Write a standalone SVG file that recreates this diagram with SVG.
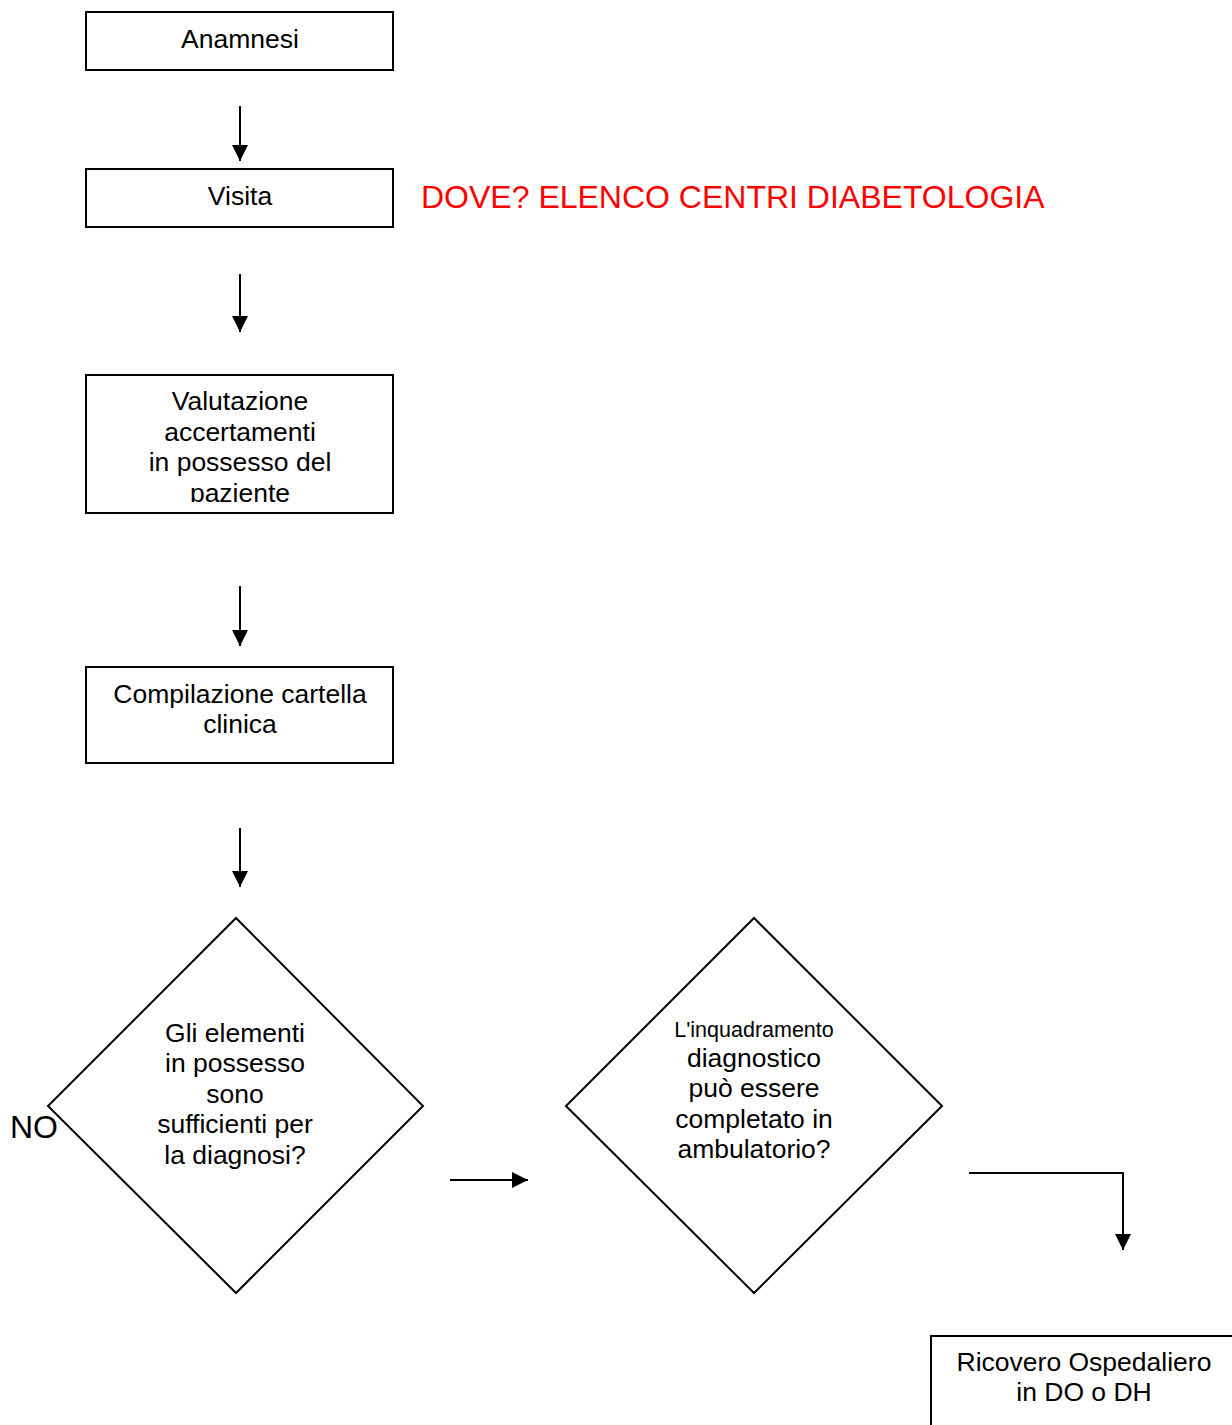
<svg xmlns="http://www.w3.org/2000/svg" width="1232" height="1425" viewBox="0 0 1232 1425">
<style>
.box{fill:#fff;stroke:#000;stroke-width:2}
.t{font-family:"Liberation Sans",Arial,sans-serif;font-size:26.5px;fill:#000;text-anchor:middle}
.c{stroke:#000;stroke-width:2;fill:none}
</style>
<defs>
<marker id="ah" markerWidth="16" markerHeight="16" viewBox="0 0 16 16" refX="16" refY="8" orient="auto" markerUnits="userSpaceOnUse">
<path d="M0,0 L16,8 L0,16 Z" fill="#000"/>
</marker>
<clipPath id="clip3"><rect x="86" y="375" width="307" height="127"/></clipPath>
</defs>
<rect width="1232" height="1425" fill="#fff"/>
<g id="n1"><rect class="box" x="86" y="12" width="307" height="58"/><text class="t" x="240" y="48">Anamnesi</text></g>
<g id="n2"><rect class="box" x="86" y="169" width="307" height="58"/><text class="t" x="240" y="205">Visita</text></g>
<g id="note"><text x="421" y="208" style="font-family:'Liberation Sans',Arial,sans-serif;font-size:32px;fill:#ff0000">DOVE? ELENCO CENTRI DIABETOLOGIA</text></g>
<g id="n3"><rect class="box" x="86" y="375" width="307" height="138"/>
<g clip-path="url(#clip3)"><text class="t" x="240" y="410">Valutazione</text><text class="t" x="240" y="441">accertamenti</text><text class="t" x="240" y="471">in possesso del</text><text class="t" x="240" y="502">paziente</text></g></g>
<g id="n4"><rect class="box" x="86" y="667" width="307" height="96"/><text class="t" x="240" y="703">Compilazione cartella</text><text class="t" x="240" y="733">clinica</text></g>
<g id="d1"><polygon class="box" points="236,918 423,1106 236,1293 48,1106"/>
<text class="t" x="235" y="1042">Gli elementi</text><text class="t" x="235" y="1072">in possesso</text><text class="t" x="235" y="1103">sono</text><text class="t" x="235" y="1133">sufficienti per</text><text class="t" x="235" y="1164">la diagnosi?</text></g>
<g id="no"><text x="10" y="1138" style="font-family:'Liberation Sans',Arial,sans-serif;font-size:32px;fill:#000">NO</text></g>
<g id="d2"><polygon class="box" points="754,918 942,1106 754,1293 566,1106"/>
<text class="t" x="754" y="1037" style="font-size:21.5px">L'inquadramento</text><text class="t" x="754" y="1067">diagnostico</text><text class="t" x="754" y="1097">può essere</text><text class="t" x="754" y="1128">completato in</text><text class="t" x="754" y="1158">ambulatorio?</text></g>
<g id="n5"><rect class="box" x="931" y="1336" width="310" height="100"/><text class="t" x="1084" y="1371">Ricovero Ospedaliero</text><text class="t" x="1084" y="1401">in DO o DH</text></g>
<g id="connectors">
<line class="c" x1="240" y1="106" x2="240" y2="161" marker-end="url(#ah)"/>
<line class="c" x1="240" y1="274" x2="240" y2="332" marker-end="url(#ah)"/>
<line class="c" x1="240" y1="586" x2="240" y2="646" marker-end="url(#ah)"/>
<line class="c" x1="240" y1="828" x2="240" y2="887" marker-end="url(#ah)"/>
<line class="c" x1="450" y1="1180" x2="528" y2="1180" marker-end="url(#ah)"/>
<polyline class="c" points="969,1173 1123,1173 1123,1250" marker-end="url(#ah)"/>
</g>
</svg>
